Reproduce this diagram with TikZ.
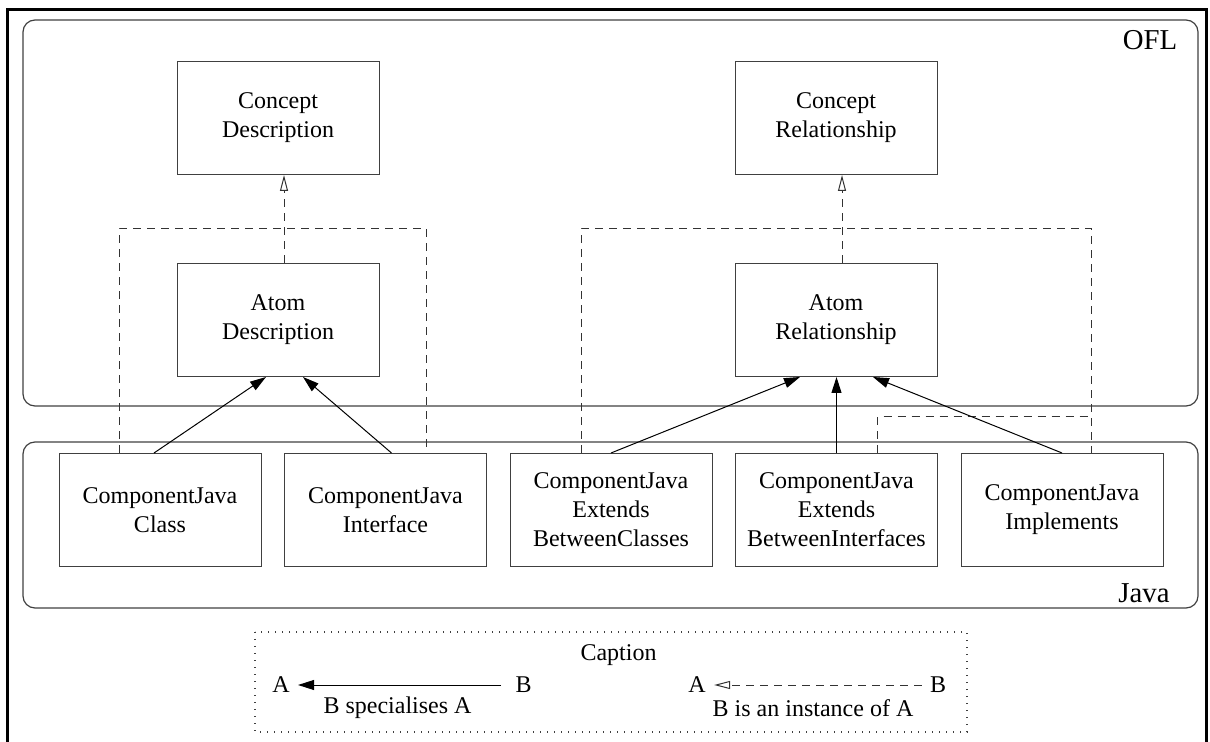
\documentclass[tikz,border=0pt]{standalone}
\usepackage{fontspec}
\setmainfont{Liberation Serif}
\usetikzlibrary{positioning,calc,arrows.meta}

\tikzset{
	box/.style={rectangle, draw=black!75, line width=0.5pt, align=center,
		minimum width=101pt, minimum height=56.5pt, font=\fontsize{12}{14.5}\selectfont},
	group/.style={draw=black!75, line width=0.6pt, rounded corners=6pt},
	grouplabel/.style={font=\fontsize{14.4}{17}\selectfont, inner sep=0pt},
	spec/.style={black, line width=0.5pt, -{Triangle[length=8pt,width=5pt]}},
	inst/.style={black!80, line width=0.5pt, dash pattern=on 4pt off 3pt},
	instarrow/.style={inst, -{Triangle[open,length=8pt,width=4pt]}},
	leg/.style={font=\fontsize{12}{14.5}\selectfont, inner sep=4pt},
	frame/.style={black, line width=1.5pt},
}

\begin{document}
\begin{tikzpicture}[x=0.5pt, y=-0.5pt]
	\useasboundingbox (0,0) rectangle (1210,742);
	\draw[frame] (7.5,742) |- (1206.5,9.5) -- (1206.5,742);

	% the two levels
	\draw[group] (23,20) rectangle (1198,406);
	\node[grouplabel] (ofllabel) at (1150,40) {OFL};
	\draw[group] (23,442) rectangle (1198,608);
	\node[grouplabel] (javalabel) at (1144,593) {Java};

	% OFL level
	\node[box] (adesc) at (278,320) {Atom\\Description};
	\node[box, above=44pt of adesc] (cdesc) {Concept\\Description};
	\node[box] (arel) at (836,320) {Atom\\Relationship};
	\node[box, above=44pt of arel] (crel) {Concept\\Relationship};

	% Java level
	\node[box] (jclass) at (160,510) {ComponentJava\\Class};
	\node[box, right=11.25pt of jclass] (jiface) {ComponentJava\\Interface};
	\node[box, right=11.25pt of jiface] (jebc) {ComponentJava\\Extends\\BetweenClasses};
	\node[box, right=11.25pt of jebc] (jebi) {ComponentJava\\Extends\\BetweenInterfaces};
	\node[box, right=11.25pt of jebi] (jimpl) {ComponentJava\\Implements};

	% instances of the concepts
	\coordinate (dl0) at ($(cdesc.south)+(6,0)$);
	\coordinate (dlj) at ($(dl0)+(0,54)$);
	\coordinate (dl1) at ($(jclass.north)+(-41,0)$);
	\coordinate (dl2) at ($(jiface.north)+(41,0)$);
	\draw[inst] (dl1) |- (dlj) -| (dl2);
	\draw[instarrow] (dl0 |- adesc.north) -- (dl0);

	\coordinate (dr0) at ($(crel.south)+(6,0)$);
	\coordinate (drj) at ($(dr0)+(0,54)$);
	\coordinate (dr1) at ($(jebc.north)+(-30,0)$);
	\coordinate (dr2) at ($(jimpl.north)+(29.5,0)$);
	\coordinate (dr3) at ($(jebi.north)+(41,0)$);
	\draw[inst] (dr1) |- (drj) -| (dr2);
	\draw[inst] (dr3) |- ($(dr2)+(0,-36)$);
	\draw[instarrow] (dr0 |- arel.north) -- (dr0);

	% specialisations
	\draw[spec] ($(jclass.north)+(-6,0)$) -- ($(adesc.south)+(-12,0)$);
	\draw[spec] ($(jiface.north)+(6,0)$) -- ($(adesc.south)+(25,0)$);
	\draw[spec] (jebc.north) -- ($(arel.south)+(-36,0)$);
	\draw[spec] (jebi.north) -- (jebi.north |- arel.south);
	\draw[spec] (jimpl.north) -- ($(arel.south)+(37,0)$);

	% caption
	\draw[black!75, line width=0.6pt, dash pattern=on 0.6pt off 2.9pt] (255,632) rectangle (967,732);
	\node[leg] (capt) at (618.5,655) {Caption};
	\node[leg] (sa) at (281,685) {A};
	\node[leg] (sb) at (523.5,685) {B};
	\draw[spec, shorten <=3pt] (sb) -- (sa);
	\node[leg] (slabel) at (397.5,708) {B specialises A};
	\node[leg] (ia) at (697,685) {A};
	\node[leg] (ib) at (938,685) {B};
	\draw[instarrow] (ib) -- (ia);
	\node[leg] (ilabel) at (813,708) {B is an instance of A};
\end{tikzpicture}
\end{document}
